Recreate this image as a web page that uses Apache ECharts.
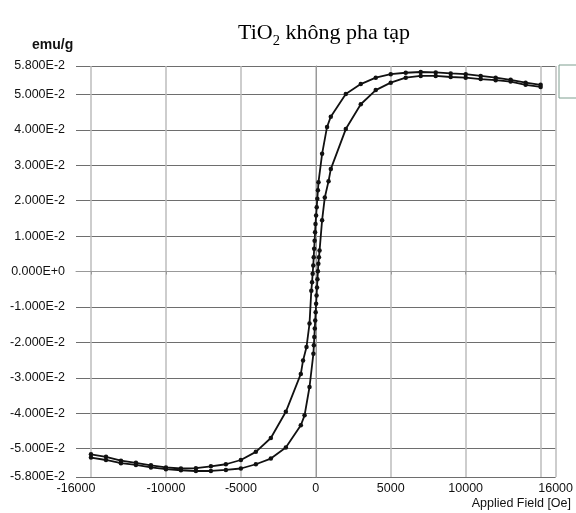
<!DOCTYPE html>
<html>
<head>
<meta charset="utf-8">
<script src="https://cdn.jsdelivr.net/npm/echarts@6/dist/echarts.min.js"></script>
<style>html,body{margin:0;padding:0;background:#fff;}#c{width:576px;height:513px;}</style>
</head>
<body>
<div id="c"></div>
<script>
// Descending branch (field from +15000 to -15000)
const descField = [15000,14000,13000,12000,11000,10000,9000,8000,7000,6000,5000,4000,3000,2000,1000,750,420,180,140,100,60,20,-20,-50,-80,-110,-140,-170,-210,-250,-300,-420,-620,-850,-1000,-2000,-3000,-4000,-5000,-6000,-7000,-8000,-9000,-10000,-11000,-12000,-13000,-14000,-15000];
const descMoment = [0.0527,0.0533,0.0541,0.0547,0.0552,0.0557,0.0559,0.0562,0.0563,0.0561,0.0557,0.0547,0.0529,0.0501,0.0437,0.0408,0.0332,0.0252,0.0229,0.0205,0.0181,0.0158,0.0134,0.0111,0.0087,0.0064,0.0040,0.0017,-0.0006,-0.0030,-0.0054,-0.0147,-0.0213,-0.0251,-0.0289,-0.0396,-0.0470,-0.0509,-0.0532,-0.0544,-0.0550,-0.0555,-0.0556,-0.0553,-0.0547,-0.0540,-0.0534,-0.0523,-0.0516];
// Ascending branch (field from -15000 to +15000)
const ascField = [-15000,-14000,-13000,-12000,-11000,-10000,-9000,-8000,-7000,-6000,-5000,-4000,-3000,-2000,-1000,-750,-420,-160,-130,-100,-70,-40,-10,20,50,80,110,140,170,210,250,420,600,850,1000,2000,3000,4000,5000,6000,7000,8000,9000,10000,11000,12000,13000,14000,15000];
const ascMoment = [-0.0525,-0.0532,-0.0541,-0.0546,-0.0553,-0.0558,-0.0561,-0.0563,-0.0563,-0.0560,-0.0556,-0.0544,-0.0528,-0.0497,-0.0434,-0.0406,-0.0326,-0.0232,-0.0208,-0.0185,-0.0161,-0.0138,-0.0115,-0.0091,-0.0068,-0.0045,-0.0022,0.0001,0.0022,0.0040,0.0059,0.0145,0.0209,0.0255,0.0289,0.0402,0.0472,0.0512,0.0533,0.0547,0.0552,0.0552,0.0549,0.0547,0.0543,0.0540,0.0536,0.0527,0.0521];

const xLabelValues = [-16000,-10000,-5000,0,5000,10000,16000];
const xGridValues = [-15000,-10000,-5000,0,5000,10000,15000,16000];
const yTickValues = [-0.058,-0.05,-0.04,-0.03,-0.02,-0.01,0,0.01,0.02,0.03,0.04,0.05,0.058];

const titleText = 'TiO';
const titleSub = '2';
const titleRest = ' không pha tạp';
const yName = 'emu/g';
const xName = 'Applied Field [Oe]';

const chart = echarts.init(document.getElementById('c'), null, {renderer:'canvas'});
const toPairs = (xs, ys) => xs.map((x, i) => [x, ys[i]]);

chart.setOption({
  animation: false,
  backgroundColor: '#fff',
  title: {
    text: '{a|' + titleText + '}{s|' + titleSub + '}{a|' + titleRest + '}',
    left: 319, top: 15, textAlign: 'center',
    textStyle: {
      fontWeight: 'normal',
      rich: {
        a: {fontFamily: 'Liberation Serif', fontSize: 22, fontWeight: 'normal', color: '#000', verticalAlign: 'bottom', lineHeight: 24},
        s: {fontFamily: 'Liberation Serif', fontSize: 14.5, fontWeight: 'normal', color: '#000', verticalAlign: 'bottom', lineHeight: 24, padding: [0,0,-5,0]}
      }
    }
  },
  grid: {left: 76, right: 18, top: 66, bottom: 36, show: false},
  xAxis: {
    type: 'value', min: -16000, max: 16000,
    axisLine: {show: true, lineStyle: {color: '#999', width: 1}},
    axisTick: {show: true, length: 3, customValues: xGridValues, lineStyle: {color: '#999'}},
    axisLabel: {customValues: xLabelValues, color: '#111', fontFamily: 'Liberation Sans', fontSize: 12.5, margin: 5,
      showMinLabel: true, showMaxLabel: true, formatter: v => String(v)},
    splitLine: {show: true, lineStyle: {color: '#bdbdbd', width: 1.5}}
  },
  yAxis: {
    type: 'value', min: -0.058, max: 0.058,
    axisLine: {show: true, lineStyle: {color: '#999', width: 1}},
    axisTick: {show: true, length: 4, customValues: yTickValues, lineStyle: {color: '#777'}},
    axisLabel: {customValues: yTickValues, color: '#111', fontFamily: 'Liberation Sans', fontSize: 12.5, margin: 11,
      showMinLabel: true, showMaxLabel: true, formatter: v => Number(v).toExponential(3).toUpperCase()},
    splitLine: {show: true, lineStyle: {color: '#6e6e6e', width: 1}}
  },
  graphic: [
    {type: 'text', left: 32, top: 38, style: {text: yName, font: 'bold 14px "Liberation Sans"', fill: '#111'}},
    {type: 'text', right: 5, top: 497, style: {text: xName, font: '12.5px "Liberation Sans"', fill: '#111'}},
    {type: 'rect', shape: {x: 559, y: 65, width: 30, height: 33}, style: {fill: '#fff', stroke: '#7f9f90', lineWidth: 1}}
  ],
  series: [
    {type: 'line', data: toPairs(descField, descMoment), symbol: 'circle', symbolSize: 4.5,
      itemStyle: {color: '#111'}, lineStyle: {color: '#111', width: 1.8}, z: 5},
    {type: 'line', data: toPairs(ascField, ascMoment), symbol: 'circle', symbolSize: 4.5,
      itemStyle: {color: '#111'}, lineStyle: {color: '#111', width: 1.8}, z: 5}
  ]
});
</script>
</body>
</html>
